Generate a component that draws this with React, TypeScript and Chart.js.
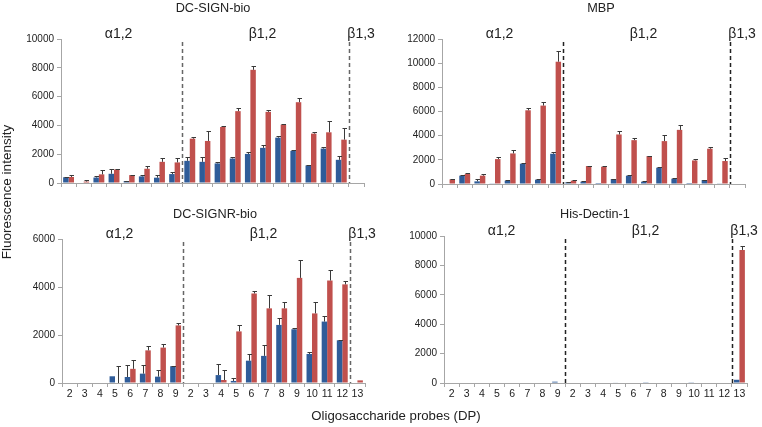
import React, { useEffect, useRef } from "react";
import { Chart, registerables } from "chart.js";
Chart.register(...registerables);

// ---------- data ----------
const categories = ["2", "3", "4", "5", "6", "7", "8", "9", "2", "3", "4", "5", "6", "7", "8", "9", "10", "11", "12", "13"];
const groupLabels = ["α1,2", "β1,2", "β1,3"];
const panelTitles = ["DC-SIGN-bio", "MBP", "DC-SIGNR-bio", "His-Dectin-1"];
const yMaxes = [10000, 12000, 6000, 10000];
const yStep = 2000;
const yAxisTitle = "Fluorescence intensity";
const xAxisTitle = "Oligosaccharide probes (DP)";

// DC-SIGN-bio
const dcsignBlue = [400, 0, 380, 640, 140, 460, 370, 620, 1540, 1470, 1360, 1700, 2020, 2440, 3150, 2230, 1220, 2390, 1610, 0];
const dcsignBlueErr = [30, 0, 130, 330, 30, 90, 160, 140, 280, 350, 110, 140, 160, 200, 110, 30, 30, 140, 280, 0];
const dcsignRed = [420, 100, 600, 940, 550, 990, 1470, 1430, 3080, 2920, 3890, 4990, 7860, 4940, 4050, 5610, 3430, 3520, 3010, 0];
const dcsignRedErr = [150, 120, 270, 30, 20, 160, 300, 290, 90, 690, 40, 250, 280, 160, 20, 320, 90, 800, 780, 0];

// MBP
const mbpBlue = [0, 690, 220, 55, 275, 1680, 360, 2500, 140, 190, 80, 410, 690, 190, 1350, 440, 80, 330, 55, 0];
const mbpBlueErr = [0, 40, 165, 0, 20, 40, 80, 140, 20, 20, 0, 20, 20, 20, 40, 30, 0, 30, 0, 0];
const mbpRed = [385, 825, 690, 2060, 2530, 6100, 6490, 10120, 275, 1490, 1430, 4100, 3630, 2310, 3550, 4480, 1950, 2920, 1900, 0];
const mbpRedErr = [60, 50, 110, 140, 250, 200, 330, 850, 20, 40, 60, 250, 140, 30, 470, 420, 110, 130, 270, 0];

// DC-SIGNR-bio
const dcsignrBlue = [0, 0, 0, 280, 250, 390, 265, 700, 0, 0, 330, 85, 930, 1130, 2420, 2240, 1210, 2560, 1780, 0];
const dcsignrBlueErr = [0, 0, 0, 0, 520, 380, 275, 20, 0, 0, 470, 135, 270, 470, 300, 70, 70, 230, 20, 0];
const dcsignrRed = [0, 0, 0, 0, 590, 1360, 1475, 2400, 0, 0, 125, 2150, 3730, 3110, 3110, 4380, 2900, 4270, 4110, 110];
const dcsignrRedErr = [0, 0, 0, 700, 385, 200, 165, 100, 0, 0, 430, 250, 110, 570, 270, 760, 480, 440, 120, 0];

// His-Dectin-1
const dectinBlue = [0, 0, 0, 0, 0, 0, 0, 90, 0, 0, 0, 30, 0, 50, 0, 0, 20, 0, 0, 220];
const dectinBlueErr = [0, 0, 0, 0, 0, 0, 0, 0, 0, 0, 0, 0, 0, 0, 0, 0, 0, 0, 0, 0];
const dectinRed = [0, 0, 0, 0, 0, 0, 0, 0, 0, 0, 0, 0, 0, 0, 0, 0, 0, 0, 0, 9050];
const dectinRedErr = [0, 0, 0, 0, 0, 0, 0, 0, 0, 0, 0, 0, 0, 0, 0, 0, 0, 0, 0, 290];

const seriesBlue = [dcsignBlue, mbpBlue, dcsignrBlue, dectinBlue];
const seriesBlueErr = [dcsignBlueErr, mbpBlueErr, dcsignrBlueErr, dectinBlueErr];
const seriesRed = [dcsignRed, mbpRed, dcsignrRed, dectinRed];
const seriesRedErr = [dcsignRedErr, mbpRedErr, dcsignrRedErr, dectinRedErr];

// ---------- styles / layout ----------
const BLUE = "#2F5C99";
const RED = "#C0504D";
const AXIS = "#A6A6A6";
const TEXT = "#222222";
const FONT = "'Liberation Sans', Arial, sans-serif";

const layouts = [
  { left: 0, top: 0, w: 381, h: 200, axisW: 61, padR: 17, padT: 39, padB: 7, xH: 10, titleX: 213, titleY: 8, showX: false, dash: "#666666" },
  { left: 381, top: 0, w: 381, h: 200, axisW: 61, padR: 17, padT: 39, padB: 6, xH: 10, titleX: 220, titleY: 8, showX: false, dash: "#222222" },
  { left: 0, top: 200, w: 381, h: 227, axisW: 62, padR: 16, padT: 39, padB: 28, xH: 16, titleX: 215, titleY: 14, showX: true, dash: "#666666" },
  { left: 381, top: 200, w: 381, h: 227, axisW: 63, padR: 15, padT: 36, padB: 28, xH: 16, titleX: 214, titleY: 14, showX: true, dash: "#222222" },
];

const errorBarPlugin = {
  id: "errbars",
  afterDatasetsDraw(chart: any) {
    const ctx = chart.ctx;
    const ys = chart.scales.y;
    chart.data.datasets.forEach((ds: any, i: number) => {
      const errs = ds.errors;
      if (!errs) return;
      const meta = chart.getDatasetMeta(i);
      meta.data.forEach((el: any, j: number) => {
        const e = errs[j];
        if (!e) return;
        const v = ds.data[j];
        const x = Math.round(el.x) + 0.5;
        const y0 = ys.getPixelForValue(v);
        const y1 = Math.round(ys.getPixelForValue(v + e)) + 0.5;
        ctx.save();
        ctx.strokeStyle = "#3a3a3a";
        ctx.lineWidth = 1;
        ctx.beginPath();
        ctx.moveTo(x, y0);
        ctx.lineTo(x, y1);
        ctx.moveTo(x - 2, y1);
        ctx.lineTo(x + 2.5, y1);
        ctx.stroke();
        ctx.restore();
      });
    });
  },
};

const decorPlugin = {
  id: "decor",
  afterDraw(chart: any, _args: any, opts: any) {
    const ctx = chart.ctx;
    const xs = chart.scales.x;
    const area = chart.chartArea;
    const px = (i: number) => xs.getPixelForValue(i);
    const d1 = (px(7) + px(8)) / 2;
    const d2 = (px(18) + px(19)) / 2;
    ctx.save();
    // dashed separators
    ctx.strokeStyle = opts.dash;
    ctx.lineWidth = 1.5;
    ctx.setLineDash([4, 3]);
    [d1, d2].forEach((dx) => {
      ctx.beginPath();
      ctx.moveTo(Math.round(dx) + 0.5, area.top + 3);
      ctx.lineTo(Math.round(dx) + 0.5, area.bottom);
      ctx.stroke();
    });
    ctx.setLineDash([]);
    // group labels
    ctx.fillStyle = TEXT;
    ctx.font = `14px ${FONT}`;
    ctx.textBaseline = "middle";
    const ly = area.top - 5;
    ctx.textAlign = "center";
    ctx.fillText(groupLabels[0], (px(0) + px(7)) / 2 - 3, ly);
    ctx.fillText(groupLabels[1], (px(8) + px(18)) / 2 - 3, ly);
    ctx.textAlign = "left";
    ctx.fillText(groupLabels[2], d2 - 1.5, ly);
    // title
    ctx.textAlign = "center";
    ctx.font = `12.7px ${FONT}`;
    ctx.fillText(opts.title, opts.titleX, opts.titleY);
    ctx.restore();
  },
};

function Panel({ idx }: { idx: number }) {
  const ref = useRef<HTMLCanvasElement | null>(null);
  const L = layouts[idx];
  useEffect(() => {
    if (!ref.current) return;
    const chart = new Chart(ref.current, {
      type: "bar",
      data: {
        labels: categories,
        datasets: [
          {
            label: "blue",
            data: seriesBlue[idx],
            errors: seriesBlueErr[idx],
            backgroundColor: BLUE,
            borderWidth: 0,
            categoryPercentage: 0.72,
            barPercentage: 1,
          } as any,
          {
            label: "red",
            data: seriesRed[idx],
            errors: seriesRedErr[idx],
            backgroundColor: RED,
            borderWidth: 0,
            categoryPercentage: 0.72,
            barPercentage: 1,
          } as any,
        ],
      },
      options: {
        responsive: false,
        animation: false,
        devicePixelRatio: 1,
        layout: { padding: { left: 0, right: L.padR, top: L.padT, bottom: L.padB } },
        plugins: {
          legend: { display: false },
          tooltip: { enabled: false },
          title: { display: false },
          decor: { title: panelTitles[idx], titleX: L.titleX, titleY: L.titleY, dash: L.dash },
        } as any,
        scales: {
          x: {
            type: "category",
            offset: true,
            grid: { display: true, drawOnChartArea: false, drawTicks: true, tickLength: 4, color: AXIS, offset: true },
            border: { display: true, color: AXIS, width: 1 },
            ticks: {
              display: L.showX,
              autoSkip: false,
              maxRotation: 0,
              minRotation: 0,
              padding: 1,
              color: TEXT,
              font: { family: FONT, size: 10.5 },
            },
            afterFit: (s: any) => {
              s.height = L.xH;
            },
          },
          y: {
            min: 0,
            max: yMaxes[idx],
            grid: { display: true, drawOnChartArea: false, drawTicks: true, tickLength: 4, color: AXIS },
            border: { display: true, color: AXIS, width: 1 },
            ticks: {
              stepSize: yStep,
              padding: 3,
              color: TEXT,
              font: { family: FONT, size: 10 },
              callback: (v: any) => String(v),
            },
            afterFit: (s: any) => {
              s.width = L.axisW;
            },
          },
        },
      },
      plugins: [errorBarPlugin, decorPlugin],
    } as any);
    return () => chart.destroy();
  }, [idx]);
  return (
    <canvas
      ref={ref}
      width={L.w}
      height={L.h}
      style={{ position: "absolute", left: L.left, top: L.top, width: L.w, height: L.h }}
    />
  );
}

export default function App() {
  return (
    <div
      style={{
        position: "fixed",
        left: 0,
        top: 0,
        width: 762,
        height: 427,
        background: "#ffffff",
        overflow: "hidden",
        fontFamily: FONT,
      }}
    >
      {[0, 1, 2, 3].map((i) => (
        <Panel key={i} idx={i} />
      ))}
      <div
        style={{
          position: "absolute",
          left: 7 - 100,
          top: 192 - 8,
          width: 200,
          height: 16,
          lineHeight: "16px",
          textAlign: "center",
          fontSize: 13.5,
          color: TEXT,
          transform: "rotate(-90deg)",
          whiteSpace: "nowrap",
        }}
      >
        {yAxisTitle}
      </div>
      <div
        style={{
          position: "absolute",
          left: 396 - 150,
          top: 416 - 8,
          width: 300,
          height: 16,
          lineHeight: "16px",
          textAlign: "center",
          fontSize: 13.2,
          color: TEXT,
          whiteSpace: "nowrap",
        }}
      >
        {xAxisTitle}
      </div>
    </div>
  );
}
